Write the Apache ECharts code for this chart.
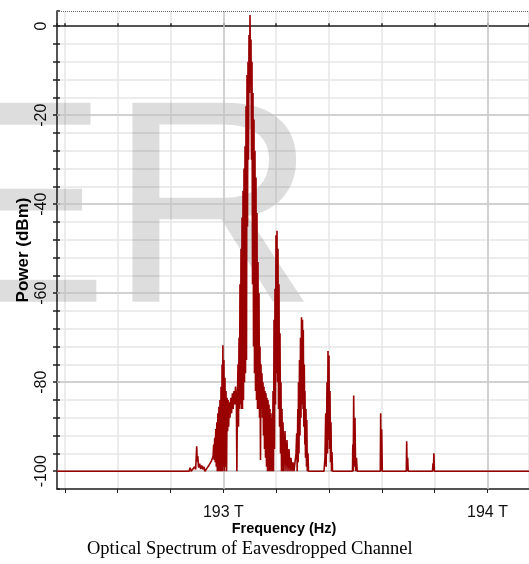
<!DOCTYPE html>
<html>
<head>
<meta charset="utf-8">
<title>Optical Spectrum of Eavesdropped Channel</title>
<script src="https://cdn.jsdelivr.net/npm/echarts@6/dist/echarts.min.js"></script>
<style>
  html, body { margin: 0; padding: 0; background: #fff; }
  #chart { width: 529px; height: 564px; }
</style>
</head>
<body>
<div id="chart"></div>
<script>
// frequency (THz) and power (dBm)
var freqTHz = [
  192.370, 192.870, 192.874, 192.878, 192.885, 192.891, 192.895, 192.899, 192.901, 192.903,
  192.906, 192.910, 192.914, 192.918, 192.922, 192.926, 192.930, 192.938, 192.946, 192.954,
  192.961, 192.963, 192.965, 192.967, 192.969, 192.971, 192.973, 192.975, 192.977, 192.979,
  192.981, 192.983, 192.985, 192.987, 192.989, 192.991, 192.993, 192.995, 192.997, 192.998,
  193.000, 193.002, 193.004, 193.006, 193.008, 193.010, 193.012, 193.014, 193.016, 193.018,
  193.020, 193.022, 193.025, 193.028, 193.031, 193.034, 193.037, 193.040, 193.043, 193.046,
  193.049, 193.051, 193.053,
  // main channel
  193.0553, 193.0572, 193.0591, 193.0609, 193.0628, 193.0647, 193.0666, 193.0685, 193.0704, 193.0723,
  193.0742, 193.0761, 193.0780, 193.0799, 193.0818, 193.0837, 193.0856, 193.0875, 193.0893, 193.0912,
  193.0931, 193.0950, 193.0969, 193.0988, 193.1007, 193.1026, 193.1045, 193.1064, 193.1083, 193.1102,
  193.1121, 193.1140, 193.1158, 193.1177, 193.1196, 193.1215, 193.1234, 193.1253, 193.1272, 193.1291,
  193.1310, 193.1329, 193.1348, 193.1367, 193.1386, 193.1404, 193.1423, 193.1442, 193.1461, 193.1480,
  // tail
  193.1500, 193.1518, 193.1537, 193.1556, 193.1575, 193.1594, 193.1613, 193.1632, 193.1651, 193.1670,
  193.1688, 193.1707, 193.1726, 193.1745, 193.1764, 193.1783, 193.1802, 193.1821, 193.1840, 193.1859,
  193.1878, 193.1897,
  // 193.2 sideband
  193.1916, 193.1935, 193.1953, 193.1972, 193.1991, 193.2010, 193.2029, 193.2048, 193.2067, 193.2086,
  193.2105, 193.2124, 193.2143, 193.2162, 193.2181, 193.2200, 193.2219, 193.2237,
  193.2256, 193.2294, 193.2332, 193.2370, 193.2408, 193.2446, 193.2484, 193.2521, 193.2559, 193.2597,
  193.2635, 193.2673,
  // 193.3 sideband
  193.2711, 193.2749, 193.2775, 193.2794, 193.2817, 193.2832, 193.2843, 193.2862, 193.2881, 193.2900,
  193.2919, 193.2938, 193.2957, 193.2976, 193.2995, 193.3014, 193.3025, 193.3044, 193.3063, 193.3082,
  193.3089, 193.3108, 193.3127, 193.3146, 193.3158, 193.3177, 193.3203, 193.3222, 193.3279, 193.3809,
  // 193.4 sideband
  193.3846, 193.3873, 193.3892, 193.3922, 193.3941, 193.3960, 193.3979, 193.3998, 193.4017, 193.4036,
  193.4055, 193.4074, 193.4093, 193.4112, 193.4131, 193.4169,
  // small spikes
  193.4888, 193.4899, 193.4914, 193.4933, 193.4956, 193.4982, 193.5005, 193.5039, 193.5066,
  193.5940, 193.5955, 193.5974, 193.5993, 193.6016,
  193.6924, 193.6939, 193.6958, 193.6977, 193.6996,
  193.7916, 193.7935, 193.7950, 193.7969, 193.7988,
  194.157
];
var powerDbm = [
  -100, -100, -99.2, -100, -100, -99.0, -99.6, -94.4, -97.8, -96.6,
  -99.2, -98.3, -99.5, -98.7, -99.6, -99.0, -100, -99.3, -98.6, -97.8,
  -96.6, -94.0, -97.5, -92.5, -98.0, -90.5, -99.0, -89.0, -100, -87.0,
  -100, -85.5, -100, -84.0, -100, -81.0, -100, -76.0, -100, -71.7,
  -99.0, -75.0, -100, -79.0, -99.0, -82.0, -100, -83.5, -91.0, -84.0,
  -90.0, -84.5, -88.0, -83.5, -87.0, -82.5, -86.0, -82.0, -85.0, -81.0,
  -83.5, -100, -84.0,
  -76, -90, -70, -86, -58, -85, -50, -86, -43, -86,
  -37, -84, -32, -80, -27, -78, -18, -75, -11, -45,
  -8, -30, -2, -15, 2.5, -10, -3, -30, -8, -58,
  -15, -72, -21, -78, -28, -82, -34, -84, -42, -86,
  -53, -86, -60, -88, -72, -97.5, -76, -86, -78, -88,
  -80, -92, -81, -95, -82, -97, -82.5, -99, -83.5, -100,
  -84, -100, -85, -100, -86, -100, -87, -100, -88, -100,
  -82, -100,
  -66, -95, -59, -85, -47, -78, -46, -80, -50, -86,
  -58, -90, -69, -96, -80, -100, -86, -100,
  -89, -100, -91, -100, -93, -100, -95, -100, -97, -100,
  -98, -100,
  -100, -96, -91.5, -100, -86, -98, -80, -96, -75, -92,
  -70, -88, -65.4, -85, -66, -86, -68.3, -90, -76, -94,
  -82, -97, -86, -99, -88.5, -100, -96, -100, -100, -100,
  -97, -87, -99, -80, -96, -73, -93, -74, -95, -82,
  -98, -89, -100, -95.7, -100, -100,
  -100, -94, -100, -83, -99, -88, -100, -97, -100,
  -100, -87, -100, -90.6, -100,
  -100, -93.3, -100, -97, -100,
  -100, -98.2, -100, -96, -100,
  -100
];

var freqRange = [192.37, 194.157];
var powerRange = [-104, 3.4];
var yTickLabels = [-100, -80, -60, -40, -20, 0];
var xTickLabels = [193, 194];

var sansFont = '"Liberation Sans", Arial, sans-serif';
var gridLight = '#e6e6e6';
var gridDark = '#c9c9c9';

var myChart = echarts.init(document.getElementById('chart'), null, { renderer: 'canvas' });

var spectrum = freqTHz.map(function (f, i) { return [f, powerDbm[i]]; });

// darker reference lines at labelled ticks
var guideLines = [];
yTickLabels.forEach(function (v) {
  if (v !== 0) guideLines.push({ yAxis: v, lineStyle: { color: gridDark, width: 1.5, type: 'solid' } });
});
xTickLabels.forEach(function (v) {
  guideLines.push({ xAxis: v, lineStyle: { color: gridDark, width: 1.5, type: 'solid' } });
});
guideLines.push({ yAxis: powerRange[1], lineStyle: { color: '#666', width: 1, type: 'dotted' } });

function xLabel(v) {
  var r = Math.round(v);
  if (Math.abs(v - r) < 1e-6 && xTickLabels.indexOf(r) >= 0) return r + ' T';
  return '';
}
function yLabel(v) {
  var r = Math.round(v);
  if (Math.abs(v - r) < 1e-6 && yTickLabels.indexOf(r) >= 0) return String(r);
  return '';
}

myChart.setOption({
  animation: false,
  backgroundColor: '#fff',
  title: {
    text: 'Optical Spectrum of Eavesdropped Channel',
    left: 87,
    top: 540,
    padding: 0,
    textStyle: {
      fontFamily: '"Liberation Serif", "Times New Roman", serif',
      fontSize: 18.5,
      fontWeight: 'normal',
      color: '#000'
    }
  },
  graphic: [{
    type: 'text',
    x: -84,
    y: 222,
    z: 1,
    silent: true,
    style: {
      text: 'ER',
      font: '289px "Liberation Sans", Arial, sans-serif',
      fill: 'rgba(0,0,0,0.135)',
      align: 'left',
      verticalAlign: 'middle'
    }
  }],
  grid: {
    left: 57,
    right: 0,
    top: 11,
    bottom: 75,
    containLabel: false,
    outerBoundsMode: 'none'
  },
  xAxis: [{
    type: 'value',
    position: 'bottom',
    min: freqRange[0],
    max: freqRange[1],
    splitNumber: 9,
    minInterval: 0.2,
    maxInterval: 0.2,
    name: 'Frequency (Hz)',
    nameLocation: 'middle',
    nameGap: 32,
    nameMoveOverlap: false,
    nameTextStyle: {
      fontFamily: sansFont,
      fontWeight: 'bold',
      fontSize: 14.5,
      color: '#000',
      padding: [0, 18, 0, 0]
    },
    axisLine: { onZero: false, lineStyle: { color: '#222', width: 1.5 } },
    axisTick: { show: true, length: 4, lineStyle: { color: '#222' } },
    axisLabel: {
      formatter: xLabel,
      margin: 16,
      fontFamily: sansFont,
      fontSize: 16,
      color: '#111',
      showMinLabel: false,
      showMaxLabel: false
    },
    splitLine: { show: true, lineStyle: { color: gridLight, width: 1.5 } }
  }, {
    // top axis drawn along 0 dBm
    type: 'value',
    position: 'top',
    min: freqRange[0],
    max: freqRange[1],
    splitNumber: 9,
    minInterval: 0.2,
    maxInterval: 0.2,
    axisLine: { show: true, onZero: true, lineStyle: { color: '#222', width: 1.5 } },
    axisTick: { show: true, length: 3, lineStyle: { color: '#222', width: 1.5 } },
    axisLabel: { show: false },
    splitLine: { show: false }
  }],
  yAxis: [{
    type: 'value',
    min: powerRange[0],
    max: powerRange[1],
    splitNumber: 26,
    minInterval: 4,
    maxInterval: 4,
    name: 'Power (dBm)',
    nameLocation: 'middle',
    nameGap: 25,
    nameMoveOverlap: false,
    nameTextStyle: {
      fontFamily: sansFont,
      fontWeight: 'bold',
      fontSize: 17,
      color: '#000'
    },
    axisLine: { show: true, onZero: false, lineStyle: { color: '#222', width: 1.5 } },
    axisTick: { show: true, length: 4, lineStyle: { color: '#222', width: 1.5 } },
    axisLabel: {
      formatter: yLabel,
      rotate: 90,
      margin: 7,
      fontFamily: sansFont,
      fontSize: 16,
      color: '#111',
      showMinLabel: false,
      showMaxLabel: false
    },
    splitLine: { show: true, showMaxLine: false, lineStyle: { color: gridLight, width: 1.5 } }
  }, {
    // inner half of the tick marks
    type: 'value',
    position: 'left',
    min: powerRange[0],
    max: powerRange[1],
    splitNumber: 26,
    minInterval: 4,
    maxInterval: 4,
    axisLine: { show: false, onZero: false },
    axisTick: { show: true, inside: true, length: 3, lineStyle: { color: '#222', width: 1.5 } },
    axisLabel: { show: false },
    splitLine: { show: false }
  }],
  series: [{
    name: 'guides',
    type: 'line',
    data: [],
    z: 1,
    silent: true,
    markLine: {
      silent: true,
      z: 1,
      symbol: 'none',
      animation: false,
      label: { show: false },
      data: guideLines
    }
  }, {
    name: 'Eavesdropped Channel',
    type: 'line',
    data: spectrum,
    z: 3,
    showSymbol: false,
    symbol: 'none',
    sampling: null,
    lineStyle: { color: '#990000', width: 1.6 }
  }]
});
</script>
</body>
</html>
